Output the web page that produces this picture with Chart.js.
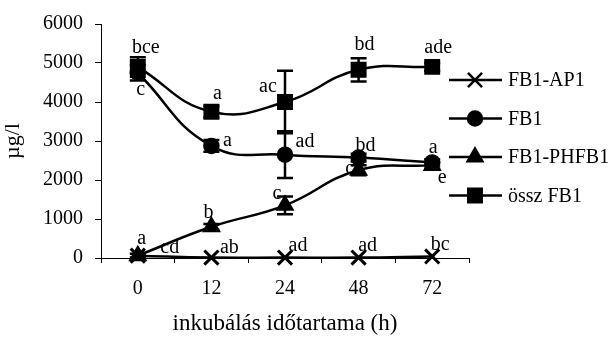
<!DOCTYPE html>
<html>
<head>
<meta charset="utf-8">
<script src="https://cdn.jsdelivr.net/npm/chart.js@4"></script>
<style>
  body { margin: 0; background: #fff; }
  #wrap { width: 615px; height: 341px; }
</style>
</head>
<body>
<div id="wrap"><canvas id="myChart"></canvas></div>
<script>
const hours = ['0', '12', '24', '48', '72'];

const ap1 = [60, 10, 10, 10, 40];
const fb1 = [4750, 2875, 2650, 2575, 2450];
const phfb1 = [60, 800, 1350, 2250, 2375];
const ossz = [4900, 3750, 4000, 4825, 4900];

const fb1Err = [200, 150, 600, 100, 80];
const phfb1Err = [50, 75, 225, 130, 80];
const osszErr = [250, 150, 800, 300, 100];

const ap1Letters = ['cd', 'ab', 'ad', 'ad', 'bc'];
const fb1Letters = ['c', 'a', 'ad', 'bd', 'a'];
const phfb1Letters = ['a', 'b', 'c', 'c', 'e'];
const osszLetters = ['bce', 'a', 'ac', 'bd', 'ade'];

const yTicks = [0, 1000, 2000, 3000, 4000, 5000, 6000];

const FONT = 'Liberation Serif, Times New Roman, serif';

// label offsets in pixels, relative to the point
const letterOffsets = [
  [[32, -8], [18, -10], [13, -12], [9, -12], [8, -12]],
  [[3, 17], [16, -5], [20, -13], [7, -12], [1, -15]],
  [[4, -17], [-3, -14], [-8, -12], [-9, -2], [10, 12]],
  [[8, -19], [6, -18], [-17, -15], [6, -25], [6, -19]]
];

const ctx = document.getElementById('myChart');

const errorBars = {
  id: 'errorBars',
  afterDatasetsDraw(chart) {
    const c = chart.ctx;
    const y = chart.scales.y;
    c.save();
    c.strokeStyle = '#000';
    c.lineWidth = 2.5;
    chart.data.datasets.forEach((ds, i) => {
      if (!ds.err) return;
      const meta = chart.getDatasetMeta(i);
      meta.data.forEach((pt, j) => {
        const e = ds.err[j];
        if (!e) return;
        const top = y.getPixelForValue(ds.data[j] + e);
        const bot = y.getPixelForValue(ds.data[j] - e);
        c.beginPath();
        c.moveTo(pt.x, top); c.lineTo(pt.x, bot);
        c.moveTo(pt.x - 8, top); c.lineTo(pt.x + 8, top);
        c.moveTo(pt.x - 8, bot); c.lineTo(pt.x + 8, bot);
        c.stroke();
      });
    });
    c.restore();
  }
};

const letters = {
  id: 'letters',
  afterDatasetsDraw(chart) {
    const c = chart.ctx;
    c.save();
    c.fillStyle = '#000';
    c.font = '20px ' + FONT;
    c.textAlign = 'center';
    c.textBaseline = 'middle';
    chart.data.datasets.forEach((ds, i) => {
      const meta = chart.getDatasetMeta(i);
      meta.data.forEach((pt, j) => {
        const off = letterOffsets[i][j];
        c.fillText(ds.letters[j], pt.x + off[0], pt.y + off[1]);
      });
    });
    c.restore();
  }
};

const sideLegend = {
  id: 'sideLegend',
  afterDraw(chart) {
    const c = chart.ctx;
    c.save();
    c.font = '20px ' + FONT;
    c.textBaseline = 'middle';
    c.fillStyle = '#000';
    c.strokeStyle = '#000';
    chart.data.datasets.forEach((ds, i) => {
      const yy = 80 + i * 38.5;
      c.lineWidth = 2.5;
      c.beginPath();
      c.moveTo(449, yy); c.lineTo(502, yy);
      c.stroke();
      Chart.helpers.drawPoint(c, {
        pointStyle: ds.pointStyle, radius: ds.pointRadius, borderWidth: ds.pointBorderWidth
      }, 475, yy);
      c.fillText(ds.label, 508, yy + 1);
    });
    c.restore();
  }
};

function series(label, data, style, radius, bw, err, lets) {
  return {
    label: label,
    data: data,
    err: err,
    letters: lets,
    borderColor: '#000',
    backgroundColor: '#000',
    pointBackgroundColor: '#000',
    pointBorderColor: '#000',
    borderWidth: 2.5,
    pointStyle: style,
    pointRadius: radius,
    pointBorderWidth: bw,
    tension: 0.45,
    fill: false,
    clip: false
  };
}

new Chart(ctx, {
  type: 'line',
  data: {
    labels: hours,
    datasets: [
      series('FB1-AP1', ap1, 'crossRot', 10, 3, null, ap1Letters),
      series('FB1', fb1, 'circle', 7, 2.5, fb1Err, fb1Letters),
      series('FB1-PHFB1', phfb1, 'triangle', 8.5, 2.5, phfb1Err, phfb1Letters),
      series('össz FB1', ossz, 'rect', 9.5, 2.5, osszErr, osszLetters)
    ]
  },
  options: {
    responsive: true,
    maintainAspectRatio: false,
    animation: false,
    layout: { padding: { left: 0, top: 18, right: 146, bottom: 0 } },
    plugins: {
      legend: { display: false },
      tooltip: { enabled: false }
    },
    scales: {
      x: {
        offset: true,
        afterFit(scale) { scale.height = 83; },
        grid: {
          drawOnChartArea: false, drawTicks: true, tickLength: 5,
          offset: true, color: '#000'
        },
        border: { display: true, color: '#000', width: 1 },
        ticks: { color: '#000', font: { family: FONT, size: 20 }, padding: 14 },
        title: {
          display: true, text: 'inkubálás időtartama (h)', color: '#000',
          font: { family: FONT, size: 23 }, padding: { top: 0, bottom: 3 }
        }
      },
      y: {
        min: 0,
        max: 6000,
        afterFit(scale) { scale.width = 101; },
        afterBuildTicks(scale) { scale.ticks = yTicks.map(v => ({ value: v })); },
        grid: { drawOnChartArea: false, drawTicks: true, tickLength: 6, color: '#000' },
        border: { display: true, color: '#000', width: 1 },
        ticks: {
          color: '#000', font: { family: FONT, size: 20 }, padding: 12,
          callback: v => String(v)
        },
        title: {
          display: true, text: 'µg/l', color: '#000',
          font: { family: FONT, size: 22 }, padding: { top: 0, bottom: 0 }
        }
      }
    }
  },
  plugins: [errorBars, letters, sideLegend]
});
</script>
</body>
</html>
